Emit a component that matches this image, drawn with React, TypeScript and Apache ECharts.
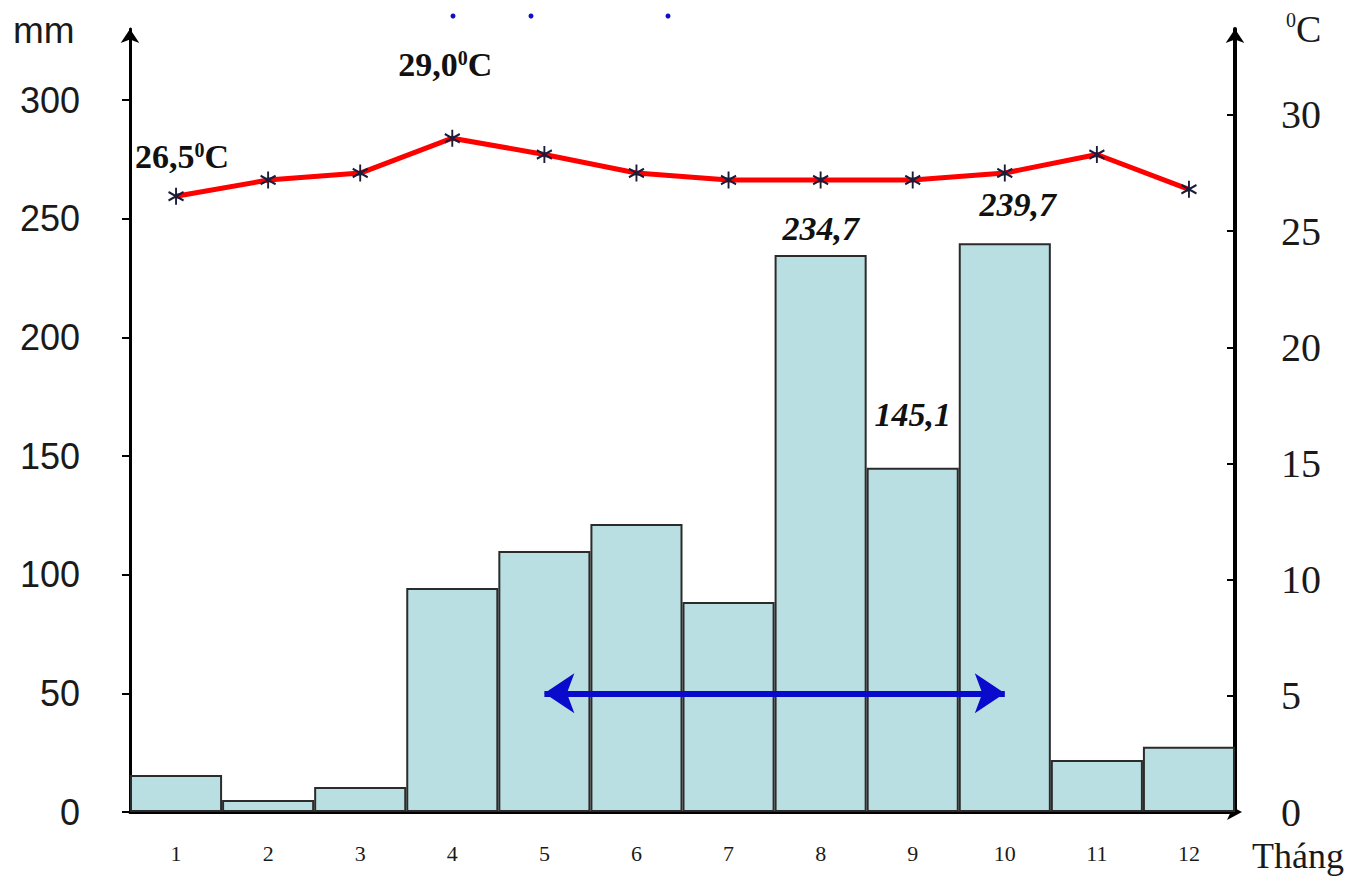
import React, { useEffect, useRef } from 'react';
import * as echarts from 'echarts';

// ---- data ----
const months = ['1', '2', '3', '4', '5', '6', '7', '8', '9', '10', '11', '12'];
const rainfall = [15.6, 5.1, 10.5, 94.4, 110.0, 121.4, 88.5, 234.7, 145.1, 239.7, 21.9, 27.5];
const temperature = [26.5, 27.2, 27.5, 29.0, 28.3, 27.5, 27.2, 27.2, 27.2, 27.5, 28.3, 26.8];
const rainTicks = [0, 50, 100, 150, 200, 250, 300];
const tempTicks = [0, 5, 10, 15, 20, 25, 30];
const labeledRainMonths = ['8', '9', '10'];
const labeledTempMonths = ['1', '4'];
const rainySeason = ['5', '10'];
const rainySeasonLevel = 50;

const serif = '"Liberation Serif", "Times New Roman", serif';
const sans = '"Liberation Sans", Arial, sans-serif';

export default function App() {
  const ref = useRef<HTMLDivElement>(null);

  useEffect(() => {
    const chart = echarts.init(ref.current!, null, { renderer: 'svg' });
    const comma = (v: number) => v.toFixed(1).replace('.', ',');

    const barLabelTweaks: Record<string, any> = {
      '8': { distance: 10 },
      '9': { distance: 36 },
      '10': { distance: 22, offset: [13, 0] },
    };
    const tempLabelTweaks: Record<string, any> = {
      '1': { offset: [6, -8] },
      '4': { offset: [-7, -42] },
    };

    const barData = rainfall.map((v, i) => {
      const m = months[i];
      if (!labeledRainMonths.includes(m)) return v;
      return {
        value: v,
        label: {
          show: true,
          position: 'top',
          formatter: (p: any) => comma(p.value),
          fontFamily: serif,
          fontStyle: 'italic',
          fontWeight: 'bold',
          fontSize: 34,
          color: '#111',
          ...barLabelTweaks[m],
        },
      };
    });

    const tempData = temperature.map((v, i) => {
      const m = months[i];
      if (!labeledTempMonths.includes(m)) return v;
      return {
        value: v,
        label: {
          show: true,
          position: 'top',
          distance: 5,
          formatter: (p: any) => `{a|${comma(p.value)}}{s|0}{a|C}`,
          rich: {
            a: { fontFamily: serif, fontWeight: 'bold', fontSize: 34, color: '#111' },
            s: { fontFamily: serif, fontWeight: 'bold', fontSize: 20, color: '#111', verticalAlign: 'top' },
          },
          ...tempLabelTweaks[m],
        },
      };
    });

    const asterisk = 'path://M10,0 L10,20 M1.34,5 L18.66,15 M1.34,15 L18.66,5';

    chart.setOption({
      animation: false,
      backgroundColor: '#ffffff',
      grid: { left: 130, right: 115, top: 29, bottom: 66 },
      xAxis: {
        type: 'category',
        data: months,
        boundaryGap: true,
        axisLine: {
          show: true,
          lineStyle: { color: '#000', width: 3 },
          symbol: ['none', 'arrow'],
          symbolSize: [12, 15],
          symbolOffset: [0, 7],
        },
        axisTick: { show: false },
        axisLabel: { margin: 30, fontFamily: serif, fontSize: 22, color: '#1a1a1a' },
        splitLine: { show: false },
      },
      yAxis: [
        {
          type: 'value',
          min: 0,
          max: 330,
          position: 'left',
          axisLine: {
            show: true,
            lineStyle: { color: '#000', width: 3 },
            symbol: ['none', 'arrow'],
            symbolSize: [14, 14],
          },
          axisTick: { show: true, inside: false, length: 8, lineStyle: { color: '#000', width: 2 }, customValues: rainTicks },
          axisLabel: { margin: 50, fontFamily: sans, fontSize: 36, color: '#1a1a1a', customValues: rainTicks },
          splitLine: { show: false },
        },
        {
          type: 'value',
          min: 0,
          max: 33.7,
          position: 'right',
          axisLine: {
            show: true,
            lineStyle: { color: '#000', width: 4 },
            symbol: ['none', 'arrow'],
            symbolSize: [14, 14],
          },
          axisTick: { show: true, inside: true, length: 8, lineStyle: { color: '#000', width: 2 }, customValues: tempTicks },
          axisLabel: { margin: 46, fontFamily: serif, fontSize: 40, color: '#1a1a1a', customValues: tempTicks },
          splitLine: { show: false },
        },
      ],
      series: [
        {
          name: 'Lượng mưa',
          type: 'bar',
          yAxisIndex: 0,
          data: barData,
          barCategoryGap: '0%',
          itemStyle: { color: '#b9dfe2', borderColor: '#2b2b2b', borderWidth: 2 },
          emphasis: { disabled: true },
          markLine: {
            silent: true,
            symbol: ['arrow', 'arrow'],
            symbolSize: [30, 30],
            label: { show: false },
            lineStyle: { color: '#0a0acc', width: 6, type: 'solid' },
            emphasis: { disabled: true },
            data: [[{ coord: [rainySeason[0], rainySeasonLevel] }, { coord: [rainySeason[1], rainySeasonLevel] }]],
          },
        },
        {
          name: 'Nhiệt độ',
          type: 'line',
          yAxisIndex: 1,
          data: tempData,
          symbol: asterisk,
          symbolSize: [15, 17],
          itemStyle: { color: '#1b1b3a', borderColor: '#1b1b3a', borderWidth: 2 },
          lineStyle: { color: '#ff0000', width: 5 },
          emphasis: { disabled: true },
          z: 5,
        },
      ],
      graphic: [
        { type: 'text', left: 13, top: 12, style: { text: 'mm', font: `37px ${sans}`, fill: '#1a1a1a' } },
        {
          type: 'text',
          left: 1286,
          top: 10,
          style: {
            text: '{s|0}{c|C}',
            rich: {
              s: { fontFamily: serif, fontSize: 20, fill: '#1a1a1a', verticalAlign: 'top' },
              c: { fontFamily: serif, fontSize: 38, fill: '#1a1a1a' },
            },
          },
        },
        { type: 'text', left: 1252, top: 838, style: { text: 'Tháng', font: `36px ${serif}`, fill: '#1a1a1a' } },
        { type: 'circle', shape: { cx: 453, cy: 16, r: 2.5 }, style: { fill: '#1010c0' } },
        { type: 'circle', shape: { cx: 531, cy: 16, r: 2.5 }, style: { fill: '#1010c0' } },
        { type: 'circle', shape: { cx: 668, cy: 16, r: 2.5 }, style: { fill: '#1010c0' } },
      ],
    });

    return () => chart.dispose();
  }, []);

  return <div ref={ref} style={{ position: 'absolute', left: 0, top: 0, width: 1350, height: 878 }} />;
}
